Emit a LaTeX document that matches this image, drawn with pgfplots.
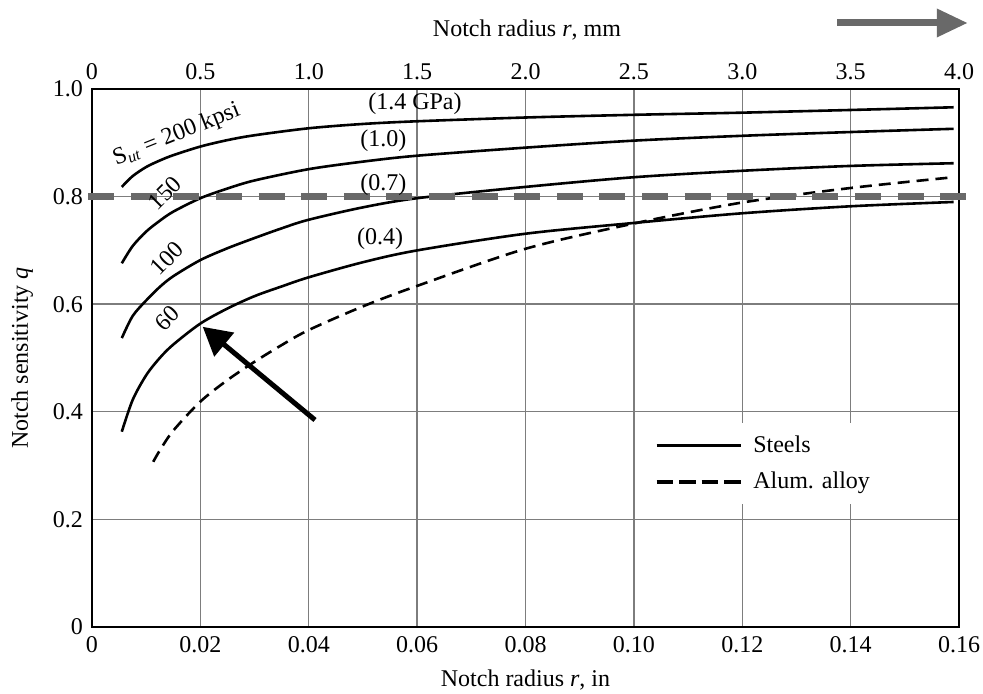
\documentclass[border=0pt]{standalone}
\usepackage{fontspec}
\setmainfont{Liberation Serif}
\usepackage{pgfplots}
\pgfplotsset{compat=1.18}
\usetikzlibrary{calc,arrows.meta}
\definecolor{dgray}{RGB}{105,105,105}
\definecolor{ggray}{RGB}{125,125,125}
\begin{document}
\begin{tikzpicture}[font=\fontsize{12}{14}\selectfont]
\begin{axis}[name=main, scale only axis, width=433.5pt, height=269pt,
  xmin=0, xmax=0.16, ymin=0, ymax=1,
  xtick={0,0.02,0.04,0.06,0.08,0.10,0.12,0.14,0.16},
  xticklabels={0,0.02,0.04,0.06,0.08,0.10,0.12,0.14,0.16},
  ytick={0,0.2,0.4,0.6,0.8,1.0},
  yticklabels={0,0.2,0.4,0.6,0.8,1.0},
  /pgf/number format/assume math mode=true,
  grid=major, major grid style={ggray, line width=0.7pt},
  major tick length=0pt,
  axis line style={black, line width=0.9pt},
  tick label style={font=\fontsize{12}{14}\selectfont},
  xticklabel style={yshift=-1pt},
  yticklabel style={xshift=-1pt},
  xlabel={Notch radius \textit{r}, in},
  ylabel={Notch sensitivity \textit{q}},
  xlabel style={at={(axis description cs:0.5,-0.0985)},anchor=center},
  ylabel style={at={(axis description cs:-0.0807,0.5)},anchor=center},
  clip=false,
  legend cell align=left,
  legend style={at={(axis cs:0.1020,0.3791)}, anchor=north west, draw=none, fill=white,
    font=\fontsize{12}{14}\selectfont, row sep=4.5pt, inner xsep=5pt, inner ysep=4pt},
  legend image code/.code={\draw[#1] (0pt,0pt) -- (42pt,0pt); \path (45.5pt,0pt);},
]
% Steels, S_ut = 200 kpsi (1.4 GPa)
\addplot[black, line width=1.3pt, smooth, forget plot] coordinates {
(0.0055,0.818) (0.0075,0.838) (0.01,0.855) (0.0125,0.867) (0.015,0.877) (0.02,0.893)
(0.025,0.905) (0.03,0.914) (0.04,0.927) (0.05,0.935) (0.06,0.940) (0.08,0.947)
(0.10,0.952) (0.12,0.956) (0.14,0.961) (0.159,0.966)};
% 150 kpsi (1.0 GPa)
\addplot[black, line width=1.3pt, smooth, forget plot] coordinates {
(0.0055,0.676) (0.0075,0.708) (0.01,0.735) (0.0125,0.755) (0.015,0.772) (0.02,0.797)
(0.025,0.815) (0.03,0.830) (0.04,0.851) (0.05,0.865) (0.06,0.876) (0.08,0.891)
(0.10,0.904) (0.12,0.913) (0.14,0.920) (0.159,0.926)};
% 100 kpsi (0.7 GPa)
\addplot[black, line width=1.3pt, smooth, forget plot] coordinates {
(0.0055,0.537) (0.0075,0.578) (0.01,0.607) (0.0125,0.632) (0.015,0.652) (0.02,0.682)
(0.025,0.704) (0.03,0.723) (0.035,0.741) (0.04,0.757) (0.05,0.780) (0.06,0.797)
(0.08,0.818) (0.10,0.836) (0.12,0.848) (0.14,0.857) (0.159,0.862)};
% 60 kpsi (0.4 GPa)
\addplot[black, line width=1.3pt, smooth, forget plot] coordinates {
(0.0055,0.363) (0.0075,0.422) (0.01,0.468) (0.0125,0.500) (0.015,0.525) (0.02,0.564)
(0.025,0.592) (0.03,0.615) (0.035,0.633) (0.04,0.650) (0.05,0.678) (0.06,0.700)
(0.08,0.731) (0.10,0.751) (0.12,0.769) (0.14,0.782) (0.159,0.790)};
% Aluminium alloy
\addplot[black, line width=1.3pt, smooth, dash pattern=on 6pt off 3.5pt, forget plot] coordinates {
(0.0113,0.307) (0.0125,0.328) (0.015,0.365) (0.02,0.419) (0.025,0.459) (0.03,0.493)
(0.035,0.524) (0.04,0.552) (0.05,0.596) (0.06,0.634) (0.08,0.703) (0.10,0.750)
(0.12,0.789) (0.14,0.816) (0.159,0.836)};
% legend
\addlegendimage{black, line width=1.4pt}
\addlegendentry{Steels}
\addlegendimage{black, line width=1.6pt, dash pattern=on 8.25pt off 3pt}
\addlegendentry{Alum. alloy}
% gray reference line
\addplot[dgray, line width=3.5pt, dash pattern=on 13pt off 8.3pt, forget plot] coordinates {(-0.0007,0.8) (0.1615,0.8)};
% labels
\node[rotate=21.8] at (axis cs:0.01562,0.9145) {S\textsubscript{\textit{ut}} = 200 kpsi};
\node at (axis cs:0.0596,0.973) {(1.4 GPa)};
\node at (axis cs:0.05376,0.904) {(1.0)};
\node at (axis cs:0.05376,0.8216) {(0.7)};
\node at (axis cs:0.05315,0.7225) {(0.4)};
\node[rotate=45] at (axis cs:0.01347,0.807) {150};
\node[rotate=45] at (axis cs:0.0138,0.685) {100};
\node[rotate=45] at (axis cs:0.0139,0.574) {60};
% black arrow
\draw[black, line width=2.5pt, -{Triangle[length=14pt,width=15pt]}] (axis cs:0.04115,0.3848) -- (axis cs:0.02043,0.558);
% gray arrow top right
\fill[dgray] (axis cs:0.1375,1.1162) rectangle (axis cs:0.1562,1.1292);
\fill[dgray] (axis cs:0.1559,1.1497) -- (axis cs:0.1615,1.1227) -- (axis cs:0.1559,1.0957) -- cycle;
\end{axis}
\begin{axis}[scale only axis, width=433.5pt, height=269pt,
  xmin=0, xmax=4, ymin=0, ymax=1,
  axis x line*=top, axis y line=none,
  xtick={0,0.5,1,1.5,2,2.5,3,3.5,4},
  xticklabels={0,0.5,1.0,1.5,2.0,2.5,3.0,3.5,4.0},
  major tick length=0pt,
  axis line style={black, line width=0.9pt},
  tick label style={font=\fontsize{12}{14}\selectfont},
  xticklabel style={yshift=1pt},
  xlabel={Notch radius \textit{r}, mm},
  xlabel style={at={(axis description cs:0.5017,1.1097)},anchor=center},
]
\end{axis}
\pgfresetboundingbox
\path[use as bounding box] ($(main.south west)+(-46pt,-33.5pt)$) rectangle ($(main.north east)+(12pt,44.5pt)$);
\end{tikzpicture}
\end{document}
